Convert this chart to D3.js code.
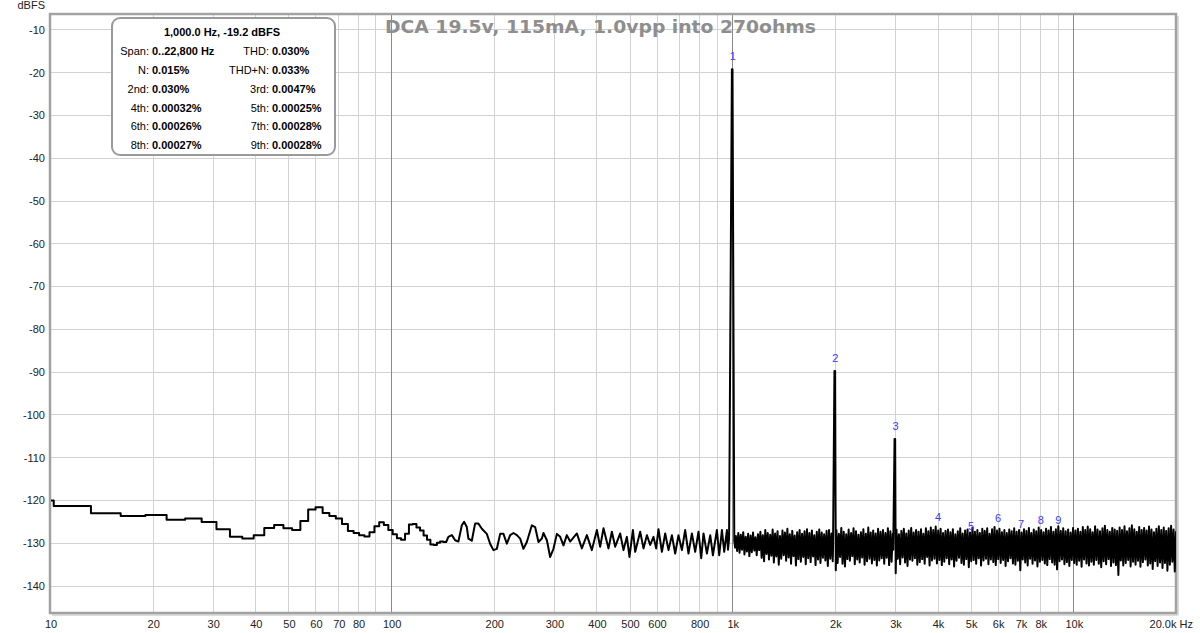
<!DOCTYPE html>
<html><head><meta charset="utf-8">
<script src="https://cdn.jsdelivr.net/npm/d3@7"></script>
<style>
body{margin:0;background:#fff;}
svg{display:block;font-family:"Liberation Sans",Arial,sans-serif;}
</style>
</head><body>
<svg id="chart" width="1200" height="633"></svg>
<script>
// ---------- data ----------
const chartTitle = "DCA 19.5v, 115mA, 1.0vpp into 270ohms";
const yUnit = "dBFS";
const yTicks = [-10,-20,-30,-40,-50,-60,-70,-80,-90,-100,-110,-120,-130,-140];
const xTickValues = [10,20,30,40,50,60,70,80,100,200,300,400,500,600,800,1000,2000,3000,4000,5000,6000,7000,8000,10000];
const xTickLabels = ["10","20","30","40","50","60","70","80","100","200","300","400","500","600","800","1k","2k","3k","4k","5k","6k","7k","8k","10k"];
const xEndLabel = "20.0k Hz";
const minorGridFreqs = [20,30,40,50,60,70,80,90,200,300,400,500,600,700,800,900,2000,3000,4000,5000,6000,7000,8000,9000];
const decadeGridFreqs = [100,1000,10000];

// FFT bins below ~145 Hz (stepped), bin width 48000/16384 Hz, starting at bin 3
const binWidth = 48000/16384;
const firstBin = 3;
const binLevels = [-120.0,-121.3,-123.0,-123.6,-123.4,-124.5,-124.2,-125.0,-126.7,-128.5,
  -128.9,-128.1,-126.4,-125.7,-126.5,-126.9,-124.8,-122.1,-121.6,-122.9,
  -123.6,-124.2,-125.5,-127.1,-127.6,-128.1,-128.4,-127.4,-126.0,-125.1,
  -125.7,-126.9,-127.9,-128.8,-129.2,-127.8,-125.6,-125.5,-126.3,-127.0,
  -128.2,-129.2,-130.3,-130.4,-129.9,-129.6,-129.7];

// 145 Hz .. 965 Hz (peaks and troughs)
const midFreqs = [147.2,150.7,154.1,157.5,161.2,163.7,166.7,168.5,172.4,176.3,180.3,184.5,190.8,195.1,199.5,204.2,208.8,213.5,218.4,223.4,
  228.4,233.7,239.0,244.3,250.0,258.6,264.4,270.4,276.7,279.7,286.2,292.6,299.2,306.2,313.1,320.1,327.5,
  334.9,350.4,362.4,374.9,387.7,401.1,410.1,419.4,433.8,443.8,453.9,469.4,480.0,491.1,499.8,511.5,519.5,537.3,549.4,562.2,
  574.8,587.8,598.6,608.0,622.1,636.1,650.5,665.5,680.5,695.8,712.0,728.0,744.4,761.7,778.8,796.5,811.2,823.9,843.0,862.0,
  877.8,901.9,916.0,932.9,947.5,964.9];
const midLevels = [-128.5,-128.1,-129.3,-129.6,-125.8,-125.0,-126.2,-128.9,-129.4,-125.4,-125.4,-126.6,-127.8,-130.1,-131.6,-131.3,-127.8,-127.8,-130.1,-128.1,
  -127.6,-128.1,-128.9,-131.3,-129.7,-125.8,-126.2,-129.7,-128.9,-127.6,-129.3,-133.2,-131.3,-127.8,-128.5,-130.5,-128.1,
  -129.6,-127.7,-131.2,-128.1,-131.6,-126.9,-130.8,-126.5,-131.2,-127.3,-130.8,-127.7,-131.6,-128.5,-133.2,-126.9,-132.0,-127.3,-131.2,-128.1,
  -130.4,-128.5,-131.2,-126.7,-132.0,-127.7,-131.6,-128.1,-132.4,-128.1,-131.6,-126.9,-132.4,-127.7,-132.0,-127.3,-133.5,-127.7,-132.4,-128.1,
  -132.8,-126.9,-132.8,-126.9,-132.0,-126.9];

// fundamental and harmonic spikes
const fundFreqs = [972,979,998,1002,1014,1020];
const fundLevels = [-131.5,-129.0,-19.2,-19.2,-129.5,-131.0];
const h2Freqs = [1975,1994,2003,2012,2020];
const h2Levels = [-131.0,-89.7,-89.7,-136.3,-129.0];
const h3Freqs = [2965,2992,3004,3015,3028];
const h3Levels = [-131.5,-105.6,-105.6,-137.0,-129.5];

// noise floor 1025 Hz .. 20 kHz, log-spaced readings
const noiseStart = 1025, noiseEnd = 20000;
const noiseLevels = [
  -128.3,-131.8,-127.6,-132.2,-128.0,-131.5,-127.4,-132.6,-128.5,-131.9,-127.8,-133.0,-128.2,-132.1,-127.5,-131.7,-128.6,-132.8,-127.9,-131.6,
  -127.3,-133.4,-128.1,-134.2,-126.9,-132.5,-127.6,-133.8,-128.0,-132.9,-126.8,-134.5,-127.7,-133.1,-127.2,-135.0,-128.3,-133.6,-127.0,-132.8,
  -127.5,-134.1,-126.6,-133.3,-127.9,-134.8,-127.1,-133.0,-128.2,-135.2,-127.4,-133.7,-126.9,-134.3,-127.8,-133.2,-127.2,-134.9,-126.7,-133.5,
  -127.6,-134.4,-127.0,-133.1,-128.1,-135.1,-127.3,-133.8,-126.8,-134.6,-127.5,-133.4,-127.9,-134.0,-127.1,-135.3,-126.9,-133.6,-127.7,-134.2,
  -127.5,-133.9,-126.9,-134.6,-127.8,-133.2,-126.4,-134.8,-127.3,-135.4,-127.9,-133.7,-126.8,-134.1,-127.6,-133.0,-126.5,-134.9,-127.2,-133.8,
  -128.0,-134.5,-127.4,-133.3,-126.7,-135.0,-127.8,-134.2,-126.3,-133.6,-127.5,-134.7,-127.0,-133.9,-127.7,-135.2,-126.6,-134.0,-127.3,-133.5,
  -126.9,-134.8,-127.6,-133.4,-126.5,-135.1,-127.2,-134.3,-127.8,
  -127.4,-134.2,-126.8,-133.6,-127.9,-134.9,-127.1,-133.3,-126.6,-134.5,-127.7,-135.3,-127.0,-133.8,-126.4,-134.1,-127.5,-133.5,-126.9,-135.0,
  -127.3,-134.4,-126.7,-133.7,-127.8,-134.8,-126.5,-133.2,-127.2,-135.2,-126.3,-134.0,-126.9,-133.6,-126.1,-134.7,-127.0,-133.9,-126.6,-135.1,
  -127.6,-134.3,-127.1,-133.5,-126.8,-134.9,-127.4,-133.8,-126.7,-135.4,-127.9,-134.1,-127.2,-133.4,-126.5,-134.6,-127.7,-135.0,-127.0,-133.7,
  -126.8,-135.6,-127.5,-134.2,-126.4,-133.9,-127.3,-134.8,-126.9,-133.5,-127.6,-135.2,-126.6,-134.0,-127.1,-133.6,-126.5,-134.9,-127.8,-133.8,
  -126.7,-134.4,-126.2,-135.1,-127.0,-133.7,-126.6,-134.6,-127.4,-133.9,-126.9,-135.3,-127.6,-134.2,-126.8,-133.5,-127.2,-134.7,-126.5,-135.0,
  -127.3,-134.1,-126.9,-136.3,-127.5,-133.8,-126.7,-134.5,-127.1,-135.2,-126.4,-133.6,-127.6,-134.8,-126.8,-134.0,-127.2,-135.4,-126.3,-134.3,
  -126.9,-133.9,-127.4,-134.7,-126.6,-135.1,-127.0,-133.7,-126.2,-134.5,-127.3,-135.0,-126.7,-136.1,-126.0,-134.2,-127.1,-133.8,-126.5,-134.9,
  -127.2,-134.4,-126.8,-135.3,-127.5,-133.9,-126.4,-134.6,-127.0,-135.0,-126.6,-134.1,-127.3,-135.5,-126.2,-133.8,-126.9,-134.7,-126.1,-135.2,
  -126.7,-134.3,-127.4,-135.0,-126.0,-133.9,-126.8,-134.8,-127.2,-135.6,-126.5,-134.2,-125.9,-134.9,-126.9,-133.7,-127.3,-135.3,-126.4,-134.5,
  -126.8,-135.1,-127.1,-137.4,-126.3,-134.0,-126.9,-135.2,-126.0,-134.6,-127.2,-133.9,-126.5,-135.4,-125.8,-134.3,-126.7,-135.0,-127.3,-134.1,
  -126.2,-135.5,-126.9,-134.4,-126.4,-133.8,-127.0,-135.2,-126.1,-134.7,-126.8,-136.0,-127.4,-134.2,-126.6,-135.3,-126.0,-134.5,-126.9,-135.8,
  -126.3,-134.6,-127.1,-136.4,-126.5,-135.0,-125.9,-134.3,-126.8,-136.6,-127.2];

// harmonic markers
const harmonicNames = ["1","2","3","4","5","6","7","8","9"];
const harmonicFreqs = [1000,2000,3000,4000,5000,6000,7000,8000,9000];
const harmonicLabelDb = [-16.2,-86.7,-102.6,-124.0,-126.0,-124.2,-125.5,-124.6,-124.6];

// info box
const infoTitle = "1,000.0 Hz, -19.2 dBFS";
const infoLeftLabels = ["Span:","N:","2nd:","4th:","6th:","8th:"];
const infoLeftValues = ["0..22,800 Hz","0.015%","0.030%","0.00032%","0.00026%","0.00027%"];
const infoRightLabels = ["THD:","THD+N:","3rd:","5th:","7th:","9th:"];
const infoRightValues = ["0.030%","0.033%","0.0047%","0.00025%","0.00028%","0.00028%"];

// ---------- layout ----------
const svg = d3.select("#chart");
const L = 50, R = 1176, T = 14, B = 613;
const x = d3.scaleLog().domain([10, 20000]).range([L, R]);
const y = d3.scaleLinear().domain([-6.26, -146.3]).range([T, B]);

svg.append("rect").attr("width",1200).attr("height",633).attr("fill","#fff");

// grid
const grid = svg.append("g");
grid.selectAll(".hg").data(yTicks).join("line")
  .attr("x1",L).attr("x2",R).attr("y1",d=>y(d)).attr("y2",d=>y(d))
  .attr("stroke","#d2d2d2").attr("stroke-width",1).attr("shape-rendering","crispEdges");
grid.selectAll(".vg").data(minorGridFreqs).join("line")
  .attr("x1",d=>Math.round(x(d))+0.5).attr("x2",d=>Math.round(x(d))+0.5).attr("y1",T).attr("y2",B)
  .attr("stroke","#d2d2d2").attr("stroke-width",1);
grid.selectAll(".dg").data(decadeGridFreqs).join("line")
  .attr("x1",d=>Math.round(x(d))+0.5).attr("x2",d=>Math.round(x(d))+0.5).attr("y1",T).attr("y2",B)
  .attr("stroke","#8a8a8a").attr("stroke-width",1);

// frame with light shadow
svg.append("line").attr("x1",R+2).attr("x2",R+2).attr("y1",T+2).attr("y2",B+2).attr("stroke","#dcdcdc").attr("stroke-width",2);
svg.append("line").attr("x1",L+2).attr("x2",R+2).attr("y1",B+2).attr("y2",B+2).attr("stroke","#dcdcdc").attr("stroke-width",2);
svg.append("rect").attr("x",L).attr("y",T).attr("width",R-L).attr("height",B-T)
  .attr("fill","none").attr("stroke","#a2a2a2").attr("stroke-width",2.5);

// trace
const stepPts = binLevels.flatMap((lv,i)=>{const k=firstBin+i; return [[(k-0.5)*binWidth,lv],[(k+0.5)*binWidth,lv]];});
const midPts = midFreqs.map((f,i)=>[f, midLevels[i]]);
const fundPts = fundFreqs.map((f,i)=>[f, fundLevels[i]]);
const h2Pts = h2Freqs.map((f,i)=>[f, h2Levels[i]]);
const h3Pts = h3Freqs.map((f,i)=>[f, h3Levels[i]]);
const nN = noiseLevels.length;
const noisePts = noiseLevels.map((lv,i)=>[noiseStart*Math.pow(noiseEnd/noiseStart, i/(nN-1)), lv])
  .filter(p => !(p[0] >= h2Freqs[0] && p[0] <= h2Freqs[h2Freqs.length-1]) &&
               !(p[0] >= h3Freqs[0] && p[0] <= h3Freqs[h3Freqs.length-1]));
const highPts = noisePts.concat(h2Pts, h3Pts).sort((a,b)=>a[0]-b[0]);
const trace = stepPts.concat(midPts, fundPts, highPts);

svg.append("clipPath").attr("id","plotClip").append("rect")
  .attr("x",L+1).attr("y",T+1).attr("width",R-L-1).attr("height",B-T-2);
const line = d3.line().x(d=>x(d[0])).y(d=>y(d[1]));
svg.append("path").datum(trace).attr("clip-path","url(#plotClip)")
  .attr("d",line).attr("fill","none").attr("stroke","#000").attr("stroke-width",2)
  .attr("stroke-linejoin","round");

// harmonic markers
svg.selectAll(".hm").data(harmonicNames).join("text")
  .attr("x",(d,i)=>x(harmonicFreqs[i])+0.5).attr("y",(d,i)=>y(harmonicLabelDb[i]))
  .attr("dy","0.35em").attr("text-anchor","middle")
  .attr("font-size",11).attr("fill","#3a3aff").text(d=>d);

// title
svg.append("text").attr("x",600.5).attr("y",33).attr("text-anchor","middle")
  .attr("font-family","'DejaVu Sans',Verdana,sans-serif")
  .attr("font-size",17).attr("font-weight","bold").attr("fill","#8e8e8e")
  .attr("textLength",431).attr("lengthAdjust","spacingAndGlyphs").text(chartTitle);

// info box
const box = svg.append("g");
box.append("rect").attr("x",112).attr("y",18).attr("width",223).attr("height",137)
  .attr("rx",8).attr("fill","#fff").attr("stroke","#9a9a9a").attr("stroke-width",2);
box.append("text").attr("x",222).attr("y",32).attr("dy","0.35em").attr("text-anchor","middle")
  .attr("font-size",11).attr("font-weight","bold").attr("fill","#000").text(infoTitle);
const rowY = i => 51 + i*18.9;
box.selectAll(".ll").data(infoLeftLabels).join("text")
  .attr("x",149).attr("y",(d,i)=>rowY(i)).attr("dy","0.35em").attr("text-anchor","end")
  .attr("font-size",11).attr("fill","#000").text(d=>d);
box.selectAll(".lv").data(infoLeftValues).join("text")
  .attr("x",152).attr("y",(d,i)=>rowY(i)).attr("dy","0.35em").attr("text-anchor","start")
  .attr("font-size",11).attr("font-weight","bold").attr("fill","#000").text(d=>d);
box.selectAll(".rl").data(infoRightLabels).join("text")
  .attr("x",269).attr("y",(d,i)=>rowY(i)).attr("dy","0.35em").attr("text-anchor","end")
  .attr("font-size",11).attr("fill","#000").text(d=>d);
box.selectAll(".rv").data(infoRightValues).join("text")
  .attr("x",272).attr("y",(d,i)=>rowY(i)).attr("dy","0.35em").attr("text-anchor","start")
  .attr("font-size",11).attr("font-weight","bold").attr("fill","#000").text(d=>d);

// axes labels
svg.selectAll(".yl").data(yTicks).join("text")
  .attr("x",45).attr("y",d=>y(d)).attr("dy","0.35em").attr("text-anchor","end")
  .attr("font-size",11).attr("fill","#222").text(d=>d);
svg.append("text").attr("x",45).attr("y",9).attr("text-anchor","end")
  .attr("font-size",11).attr("fill","#222").text(yUnit);
svg.selectAll(".xl").data(xTickValues).join("text")
  .attr("x",d=>x(d)+1).attr("y",628).attr("text-anchor","middle")
  .attr("font-size",11).attr("fill","#222").text((d,i)=>xTickLabels[i]);
svg.append("text").attr("x",1193).attr("y",628).attr("text-anchor","end")
  .attr("font-size",11).attr("fill","#222").text(xEndLabel);
</script>
</body></html>
